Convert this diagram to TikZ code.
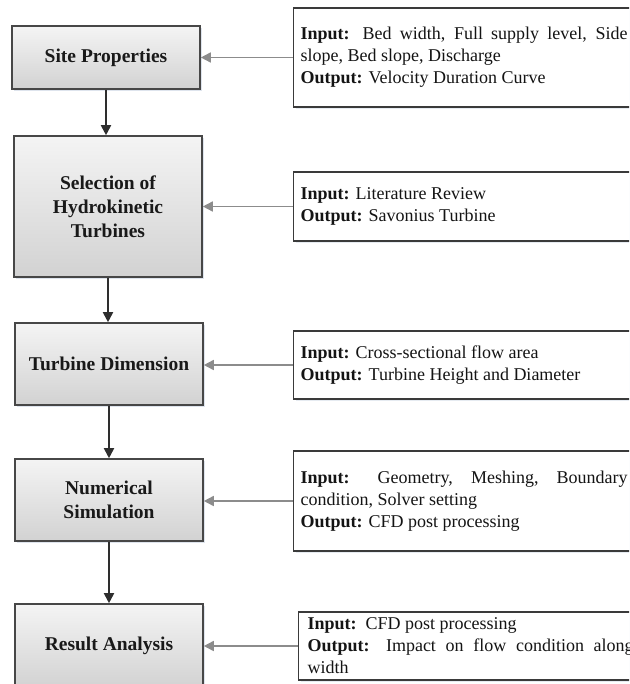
\documentclass[tikz,border=0pt]{standalone}
\usepackage{fontspec}
\setmainfont{Liberation Serif}
\usetikzlibrary{arrows.meta,shadows}
\hyphenpenalty=10000
\exhyphenpenalty=10000
\definecolor{stepborder}{HTML}{474747}
\definecolor{steptop}{HTML}{F4F4F4}
\definecolor{stepbottom}{HTML}{D2D2D2}
\definecolor{infoborder}{HTML}{3A3A3A}
\definecolor{shadowcol}{HTML}{C9D3E2}
\definecolor{flowcol}{HTML}{2E2E2E}
\definecolor{feedcol}{HTML}{8C8C8C}
\begin{document}
\begin{tikzpicture}[x=1pt,y=-1pt,
  stepbox/.style={draw=stepborder, line width=1.6pt, top color=steptop, bottom color=stepbottom,
    minimum width=188pt, inner sep=0pt, align=center,
    font=\fontsize{19.5}{24}\selectfont\bfseries, text=black!90,
    drop shadow={shadow xshift=2pt, shadow yshift=-2pt, fill=shadowcol, opacity=0.6}},
  infobox/.style={draw=infoborder, line width=1.3pt, fill=white, anchor=west,
    inner xsep=7pt, inner ysep=0pt, text width=327pt, align=justify,
    font=\fontsize{18}{22}\selectfont, text=black!92,
    drop shadow={shadow xshift=2pt, shadow yshift=-2pt, fill=shadowcol, opacity=0.45}},
  flowarrow/.style={draw=flowcol, line width=1.8pt, -{Triangle[length=10pt,width=10pt]}},
  feedarrow/.style={draw=feedcol, line width=1.6pt, -{Triangle[length=10pt,width=10pt]}}
]
\useasboundingbox (0,0) rectangle (629,684);
\clip (0,0) rectangle (629,684);
\fill[white] (0,0) rectangle (629,684);

% process steps
\node[stepbox, minimum height=63pt]  (b1) at (106,57.5) {Site Properties};
\node[stepbox, minimum height=141pt] (b2) at (108,206.5) {Selection of\\Hydrokinetic\\Turbines};
\node[stepbox, minimum height=82pt]  (b3) at (109,364) {Turbine Dimension};
\node[stepbox, minimum height=82pt]  (b4) at (109,500) {Numerical\\Simulation};
\node[stepbox, minimum height=84pt]  (b5) at (109,646) {Result Analysis};

% information boxes
\node[infobox, minimum height=99pt] (r1) at (293,57.5)
  {\textbf{Input:} Bed width, Full supply level, Side slope, Bed slope, Discharge\\\textbf{Output:} Velocity Duration Curve};
\node[infobox, minimum height=69pt] (r2) at (293,206.5)
  {\textbf{Input:} Literature Review\\\textbf{Output:} Savonius Turbine};
\node[infobox, minimum height=68pt] (r3) at (293,365)
  {\textbf{Input:} Cross-sectional flow area\\\textbf{Output:} Turbine Height and Diameter};
\node[infobox, minimum height=100pt] (r4) at (293,501)
  {\textbf{Input:} Geometry, Meshing, Boundary condition, Solver setting\\\textbf{Output:} CFD post processing};
\node[infobox, minimum height=68pt, inner xsep=9pt, text width=326pt] (r5) at (298,646)
  {\textbf{Input:}\ \ CFD post processing\\\textbf{Output:} Impact on flow condition along width};

% flow connectors
\draw[flowarrow] (b1.south) -- (b1.south |- b2.north);
\draw[flowarrow] (b2.south) -- (b2.south |- b3.north);
\draw[flowarrow] (b3.south) -- (b3.south |- b4.north);
\draw[flowarrow] (b4.south) -- (b4.south |- b5.north);

% input connectors
\draw[feedarrow] (r1.west) -- (r1.west -| b1.east);
\draw[feedarrow] (r2.west) -- (r2.west -| b2.east);
\draw[feedarrow] (r3.west) -- (r3.west -| b3.east);
\draw[feedarrow] (r4.west) -- (r4.west -| b4.east);
\draw[feedarrow] (r5.west) -- (r5.west -| b5.east);
\end{tikzpicture}
\end{document}
